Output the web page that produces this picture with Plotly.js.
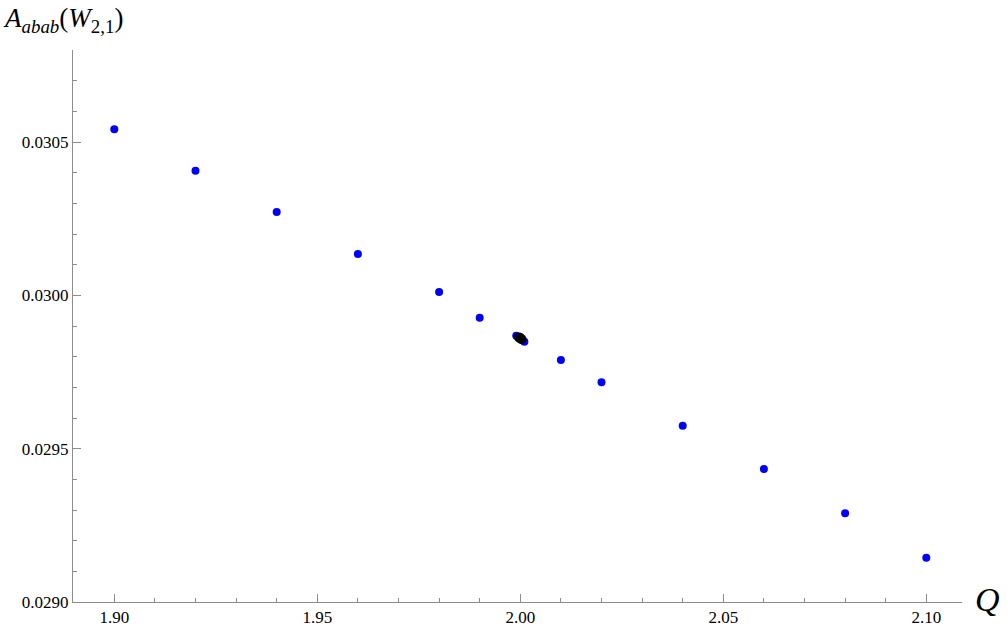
<!DOCTYPE html>
<html>
<head>
<meta charset="utf-8">
<script src="https://cdn.plot.ly/plotly-3.0.1.min.js"></script>
<style>html,body{margin:0;padding:0;background:#fff;}#chart{width:1007px;height:629px;}</style>
</head>
<body>
<div id="chart"></div>
<script>
const qValues = [1.90, 1.92, 1.94, 1.96, 1.98, 1.99, 1.999, 2.000, 2.001, 2.01, 2.02, 2.04, 2.06, 2.08, 2.10];
const aValues = [0.0305423, 0.0304072, 0.0302724, 0.0301354, 0.0300114, 0.0299276, 0.0298688, 0.0298600, 0.0298493, 0.0297896, 0.0297168, 0.0295752, 0.0294339, 0.0292894, 0.0291445];
const qBlack = [1.9997, 2.0000, 2.0003];
const aBlack = [0.0298633, 0.0298604, 0.0298575];
const xTickVals = [1.90, 1.95, 2.00, 2.05, 2.10];
const xTickText = ["1.90", "1.95", "2.00", "2.05", "2.10"];
const yTickVals = [0.0290, 0.0295, 0.0300, 0.0305];
const yTickText = ["0.0290", "0.0295", "0.0300", "0.0305"];

const axisColor = '#8c8c8c';
const serif = '"Liberation Serif", "Times New Roman", serif';

const traces = [
  {x: qValues, y: aValues, mode: 'markers', type: 'scatter',
   marker: {color: '#0000ff', size: 8}, hoverinfo: 'x+y'},
  {x: qBlack, y: aBlack, mode: 'markers', type: 'scatter',
   marker: {color: '#000000', size: 10}, hoverinfo: 'x+y'}
];

const layout = {
  width: 1007, height: 629,
  margin: {l: 73, r: 45, t: 50, b: 27},
  paper_bgcolor: '#fff', plot_bgcolor: '#fff',
  showlegend: false,
  xaxis: {
    range: [1.88983, 2.10879], showgrid: false, zeroline: false,
    showline: true, linecolor: axisColor, linewidth: 1,
    ticks: 'inside', ticklen: 8, tickcolor: axisColor, tickwidth: 1,
    tickmode: 'array', tickvals: xTickVals, ticktext: xTickText,
    tickfont: {family: serif, size: 17, color: '#000'},
    minor: {dtick: 0.01, tick0: 1.90, ticks: 'inside', ticklen: 4, tickcolor: axisColor, tickwidth: 1, showgrid: false}
  },
  yaxis: {
    range: [0.0290, 0.030801], showgrid: false, zeroline: false,
    showline: true, linecolor: axisColor, linewidth: 1,
    ticks: 'inside', ticklen: 8, tickcolor: axisColor, tickwidth: 1,
    tickmode: 'array', tickvals: yTickVals, ticktext: yTickText,
    tickfont: {family: serif, size: 17, color: '#000'},
    minor: {dtick: 0.0001, tick0: 0.0290, ticks: 'inside', ticklen: 4, tickcolor: axisColor, tickwidth: 1, showgrid: false}
  },
  annotations: [
    {xref: 'paper', yref: 'paper', x: -0.081, y: 1.055, xanchor: 'left', yanchor: 'middle',
     showarrow: false,
     text: '<i>A</i><sub><i>abab</i></sub>(<i>W</i><sub>2,1</sub>)',
     font: {family: serif, size: 27, color: '#000'}},
    {xref: 'paper', yref: 'paper', x: 1.012, y: 0.005, xanchor: 'left', yanchor: 'middle',
     showarrow: false, text: '<i>Q</i>',
     font: {family: serif, size: 34, color: '#000'}}
  ]
};

Plotly.newPlot('chart', traces, layout, {displayModeBar: false, staticPlot: true});
</script>
</body>
</html>
